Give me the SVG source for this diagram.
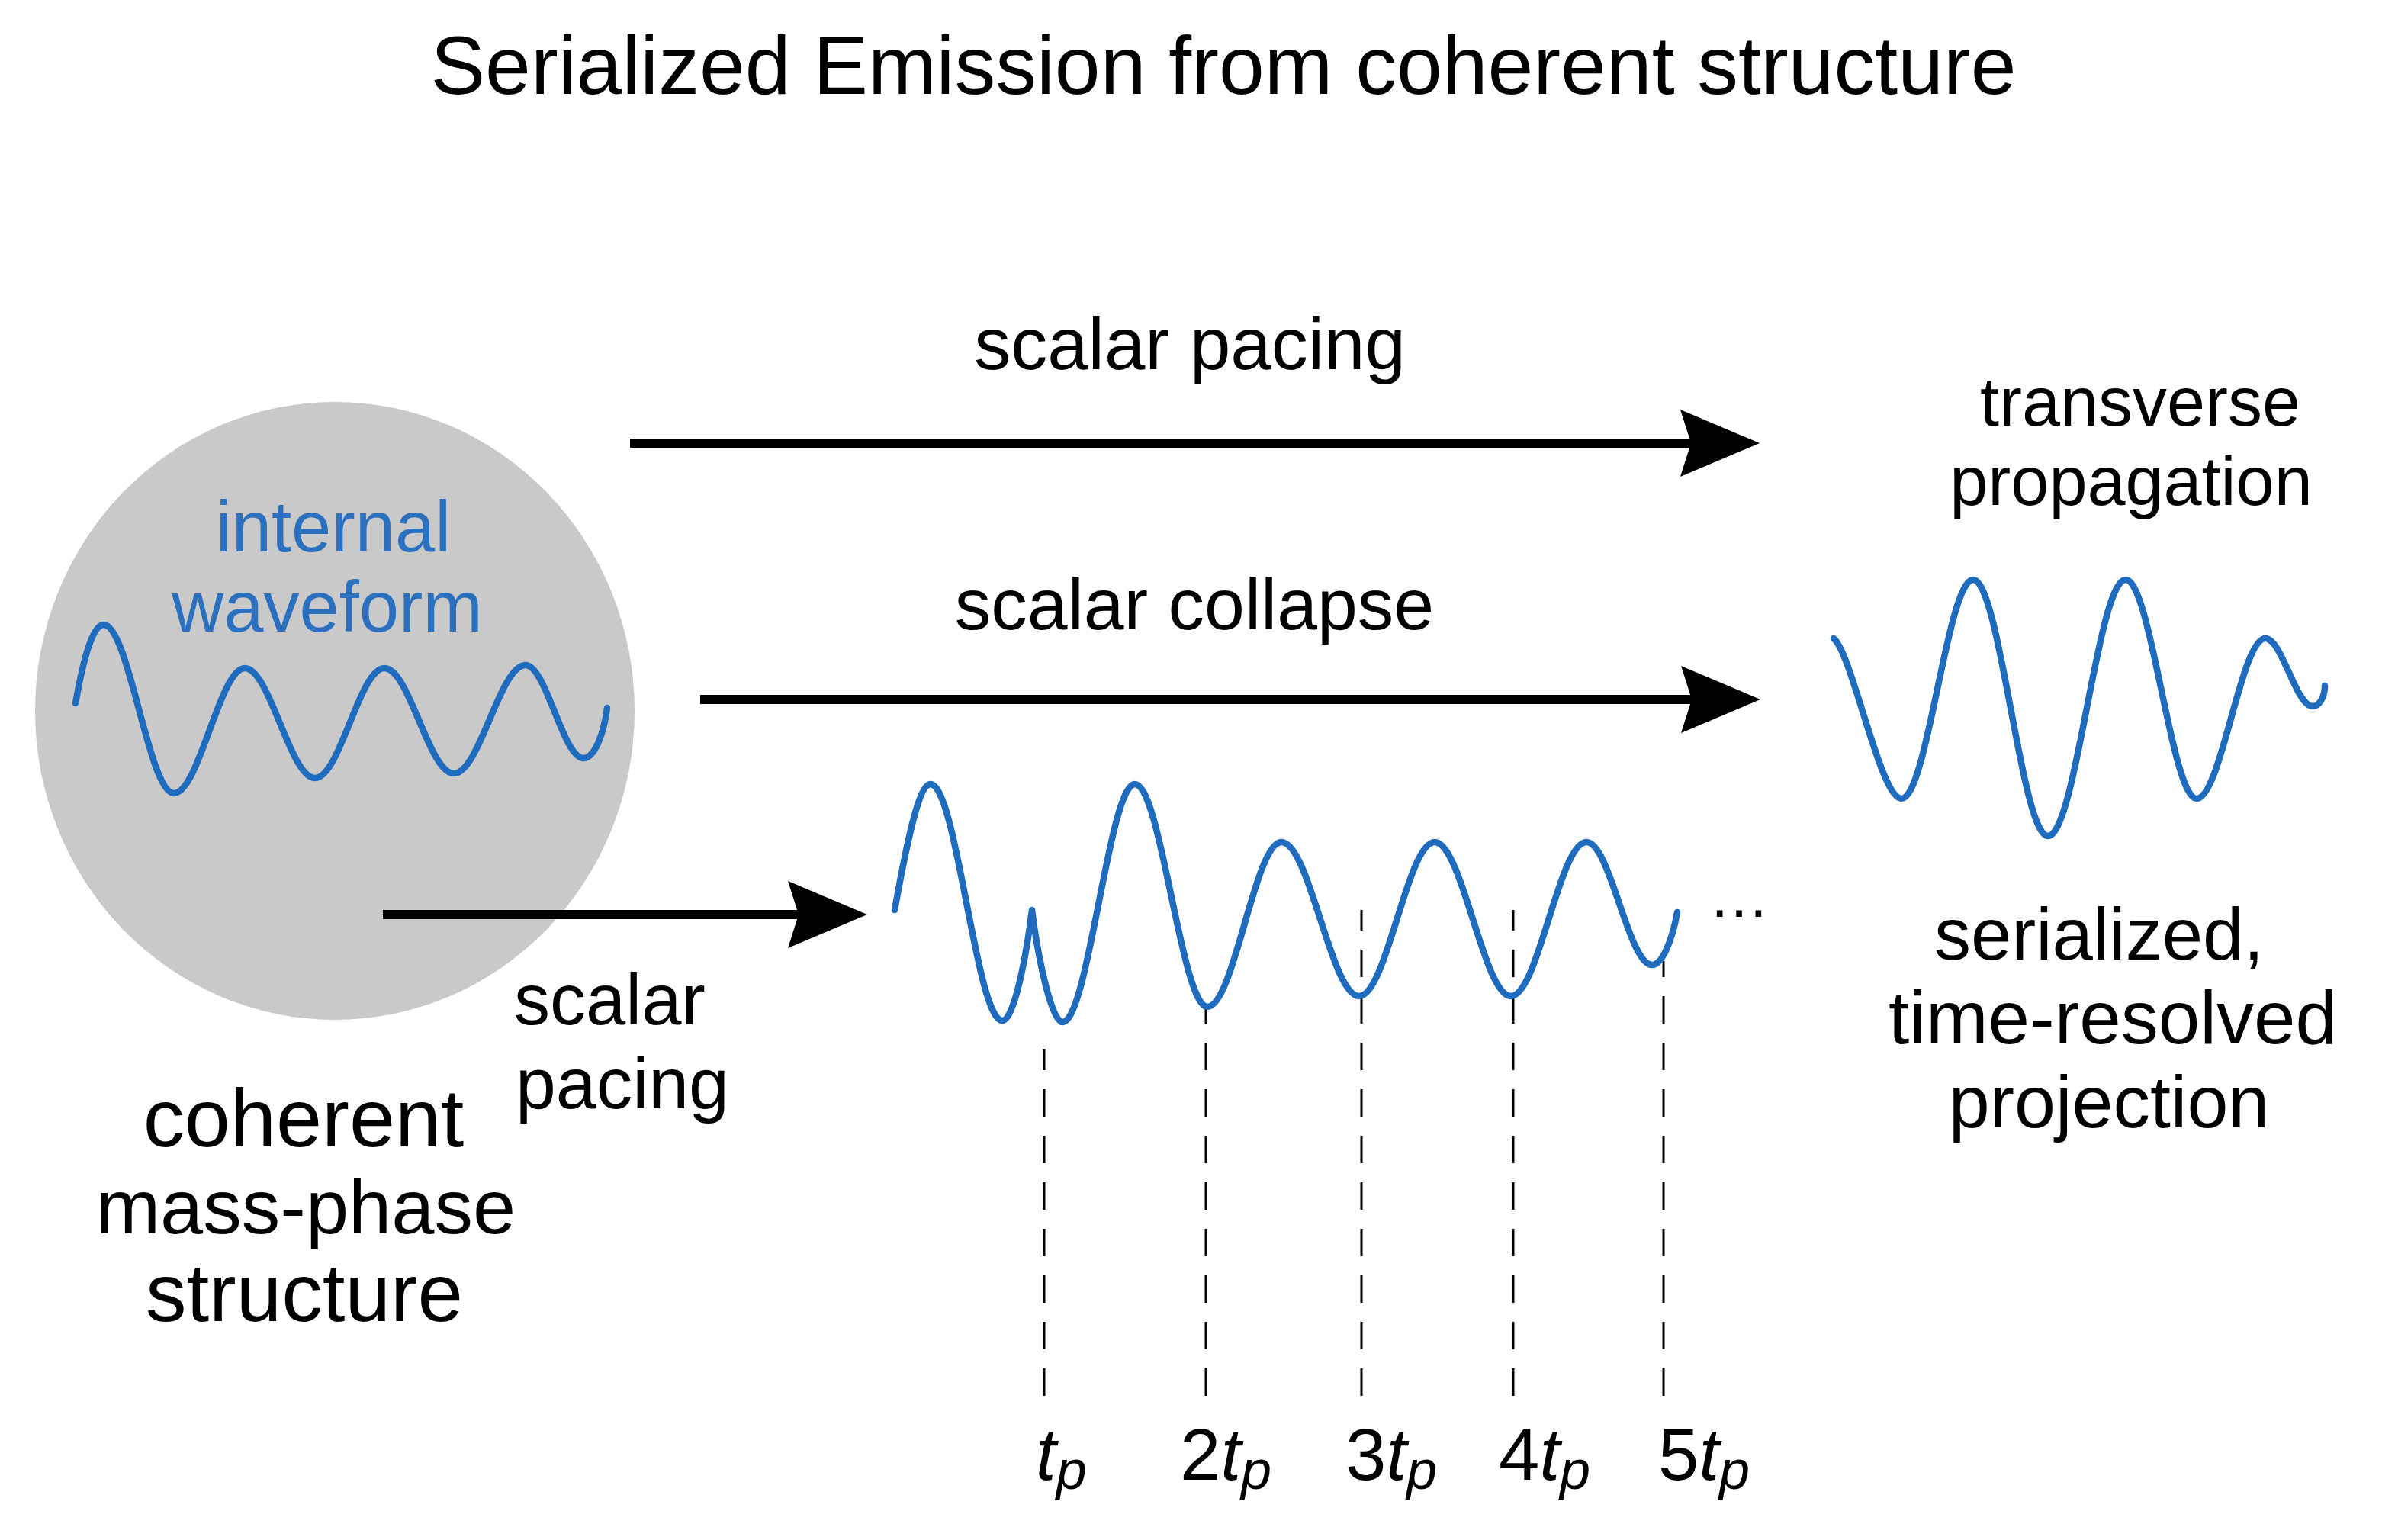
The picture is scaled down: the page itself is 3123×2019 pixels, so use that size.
<svg xmlns="http://www.w3.org/2000/svg" width="3123" height="2019" viewBox="0 0 3123 2019">
<style>
  text { font-family: "Liberation Sans", Arial, sans-serif; fill: #000; }
  .mid { text-anchor: middle; }
  .blue { fill: #2b70bf; }
  .wave { fill: none; stroke: #1f6bbd; stroke-width: 8.5; stroke-linecap: round; stroke-linejoin: round; }
  .conn { stroke: #000; stroke-width: 12; fill: none; }
  .dash { stroke: #000; stroke-width: 3; stroke-dasharray: 36 25; fill: none; }
  .it { font-style: italic; }
</style>
<defs>
  <marker id="ah" markerUnits="userSpaceOnUse" viewBox="0 0 104 88" markerWidth="104" markerHeight="88" refX="14" refY="44" orient="auto">
    <path d="M0,0 L104,44 L0,88 L14,44 Z" fill="#000"/>
  </marker>
</defs>
<rect width="3123" height="2019" fill="#fff"/>

<g id="title">
  <text class="mid" x="1604" y="123" font-size="107.5">Serialized Emission from coherent structure</text>
</g>

<g id="coherent-structure">
  <ellipse cx="439" cy="932" rx="393" ry="405" fill="#c9c9c9"/>
  <text class="mid blue" x="437" y="723" font-size="94">internal</text>
  <text class="mid blue" x="429" y="828" font-size="94">waveform</text>
  <path class="wave" d="M99,922 C110,860 122,819 136,819 C169,819 195,1040 228,1040 C261,1040 288,876 321,876 C354,876 380,1020 413,1020 C446,1020 471,876 504,876 C537,876 562,1014 595,1014 C629,1014 655,872 689,872 C716,872 738,994 765,994 C780,994 792,960 796,928"/>
  <text class="mid" x="398" y="1503" font-size="108">coherent</text>
  <text class="mid" x="401" y="1617" font-size="101">mass-phase</text>
  <text class="mid" x="399" y="1732" font-size="107">structure</text>
</g>

<g id="connectors">
  <line class="conn" x1="826" y1="581" x2="2217" y2="581" marker-end="url(#ah)"/>
  <line class="conn" x1="918" y1="917" x2="2218" y2="917" marker-end="url(#ah)"/>
  <line class="conn" x1="502" y1="1199" x2="1047" y2="1199" marker-end="url(#ah)"/>
</g>

<g id="connector-labels">
  <text class="mid" x="1560" y="484" font-size="96">scalar pacing</text>
  <text class="mid" x="1566" y="825" font-size="95">scalar collapse</text>
  <text x="674" y="1343" font-size="94">scalar</text>
  <text x="676" y="1453" font-size="95">pacing</text>
</g>

<g id="time-markers">
  <line class="dash" x1="1369" y1="1830" x2="1369" y2="1375"/>
  <line class="dash" x1="1581" y1="1830" x2="1581" y2="1323"/>
  <line class="dash" x1="1785" y1="1830" x2="1785" y2="1193"/>
  <line class="dash" x1="1984" y1="1830" x2="1984" y2="1193"/>
  <line class="dash" x1="2181" y1="1830" x2="2181" y2="1260"/>
  <text x="1358" y="1940" font-size="96"><tspan class="it">t</tspan><tspan class="it" font-size="72" dy="12">p</tspan></text>
  <text x="1547" y="1940" font-size="96">2<tspan class="it">t</tspan><tspan class="it" font-size="72" dy="12">p</tspan></text>
  <text x="1764" y="1940" font-size="96">3<tspan class="it">t</tspan><tspan class="it" font-size="72" dy="12">p</tspan></text>
  <text x="1965" y="1940" font-size="96">4<tspan class="it">t</tspan><tspan class="it" font-size="72" dy="12">p</tspan></text>
  <text x="2174" y="1940" font-size="96">5<tspan class="it">t</tspan><tspan class="it" font-size="72" dy="12">p</tspan></text>
</g>

<g id="serialized-wave">
  <path class="wave" d="M1173,1193 C1188,1110 1204,1028 1220,1028 C1254,1028 1280,1338 1314,1338 C1330,1338 1346,1250 1353,1193 C1360,1250 1378,1340 1393,1340 C1427,1340 1454,1028 1488,1028 C1522,1028 1549,1320 1583,1320 C1618,1320 1645,1104 1680,1104 C1717,1104 1745,1306 1782,1306 C1818,1306 1845,1104 1881,1104 C1917,1104 1945,1306 1981,1306 C2017,1306 2044,1104 2080,1104 C2111,1104 2135,1265 2166,1265 C2180,1265 2193,1230 2199,1196"/>
  <text x="2240" y="1202" font-size="80">…</text>
</g>

<g id="transverse-propagation">
  <text class="mid" x="2806" y="558" font-size="90">transverse</text>
  <text class="mid" x="2794" y="662" font-size="90">propagation</text>
  <path class="wave" stroke-width="9" d="M2404,837 C2428,855 2465,1047 2493,1047 C2527,1047 2553,760 2587,760 C2622,760 2650,1096 2685,1096 C2722,1096 2750,760 2787,760 C2820,760 2847,1047 2880,1047 C2912,1047 2938,837 2970,837 C2992,837 3010,926 3032,926 C3040,926 3048,915 3048,899"/>
</g>

<g id="projection-label">
  <text class="mid" x="2752" y="1258" font-size="96">serialized,</text>
  <text class="mid" x="2770" y="1368" font-size="98">time-resolved</text>
  <text class="mid" x="2765" y="1478" font-size="97">projection</text>
</g>
</svg>
